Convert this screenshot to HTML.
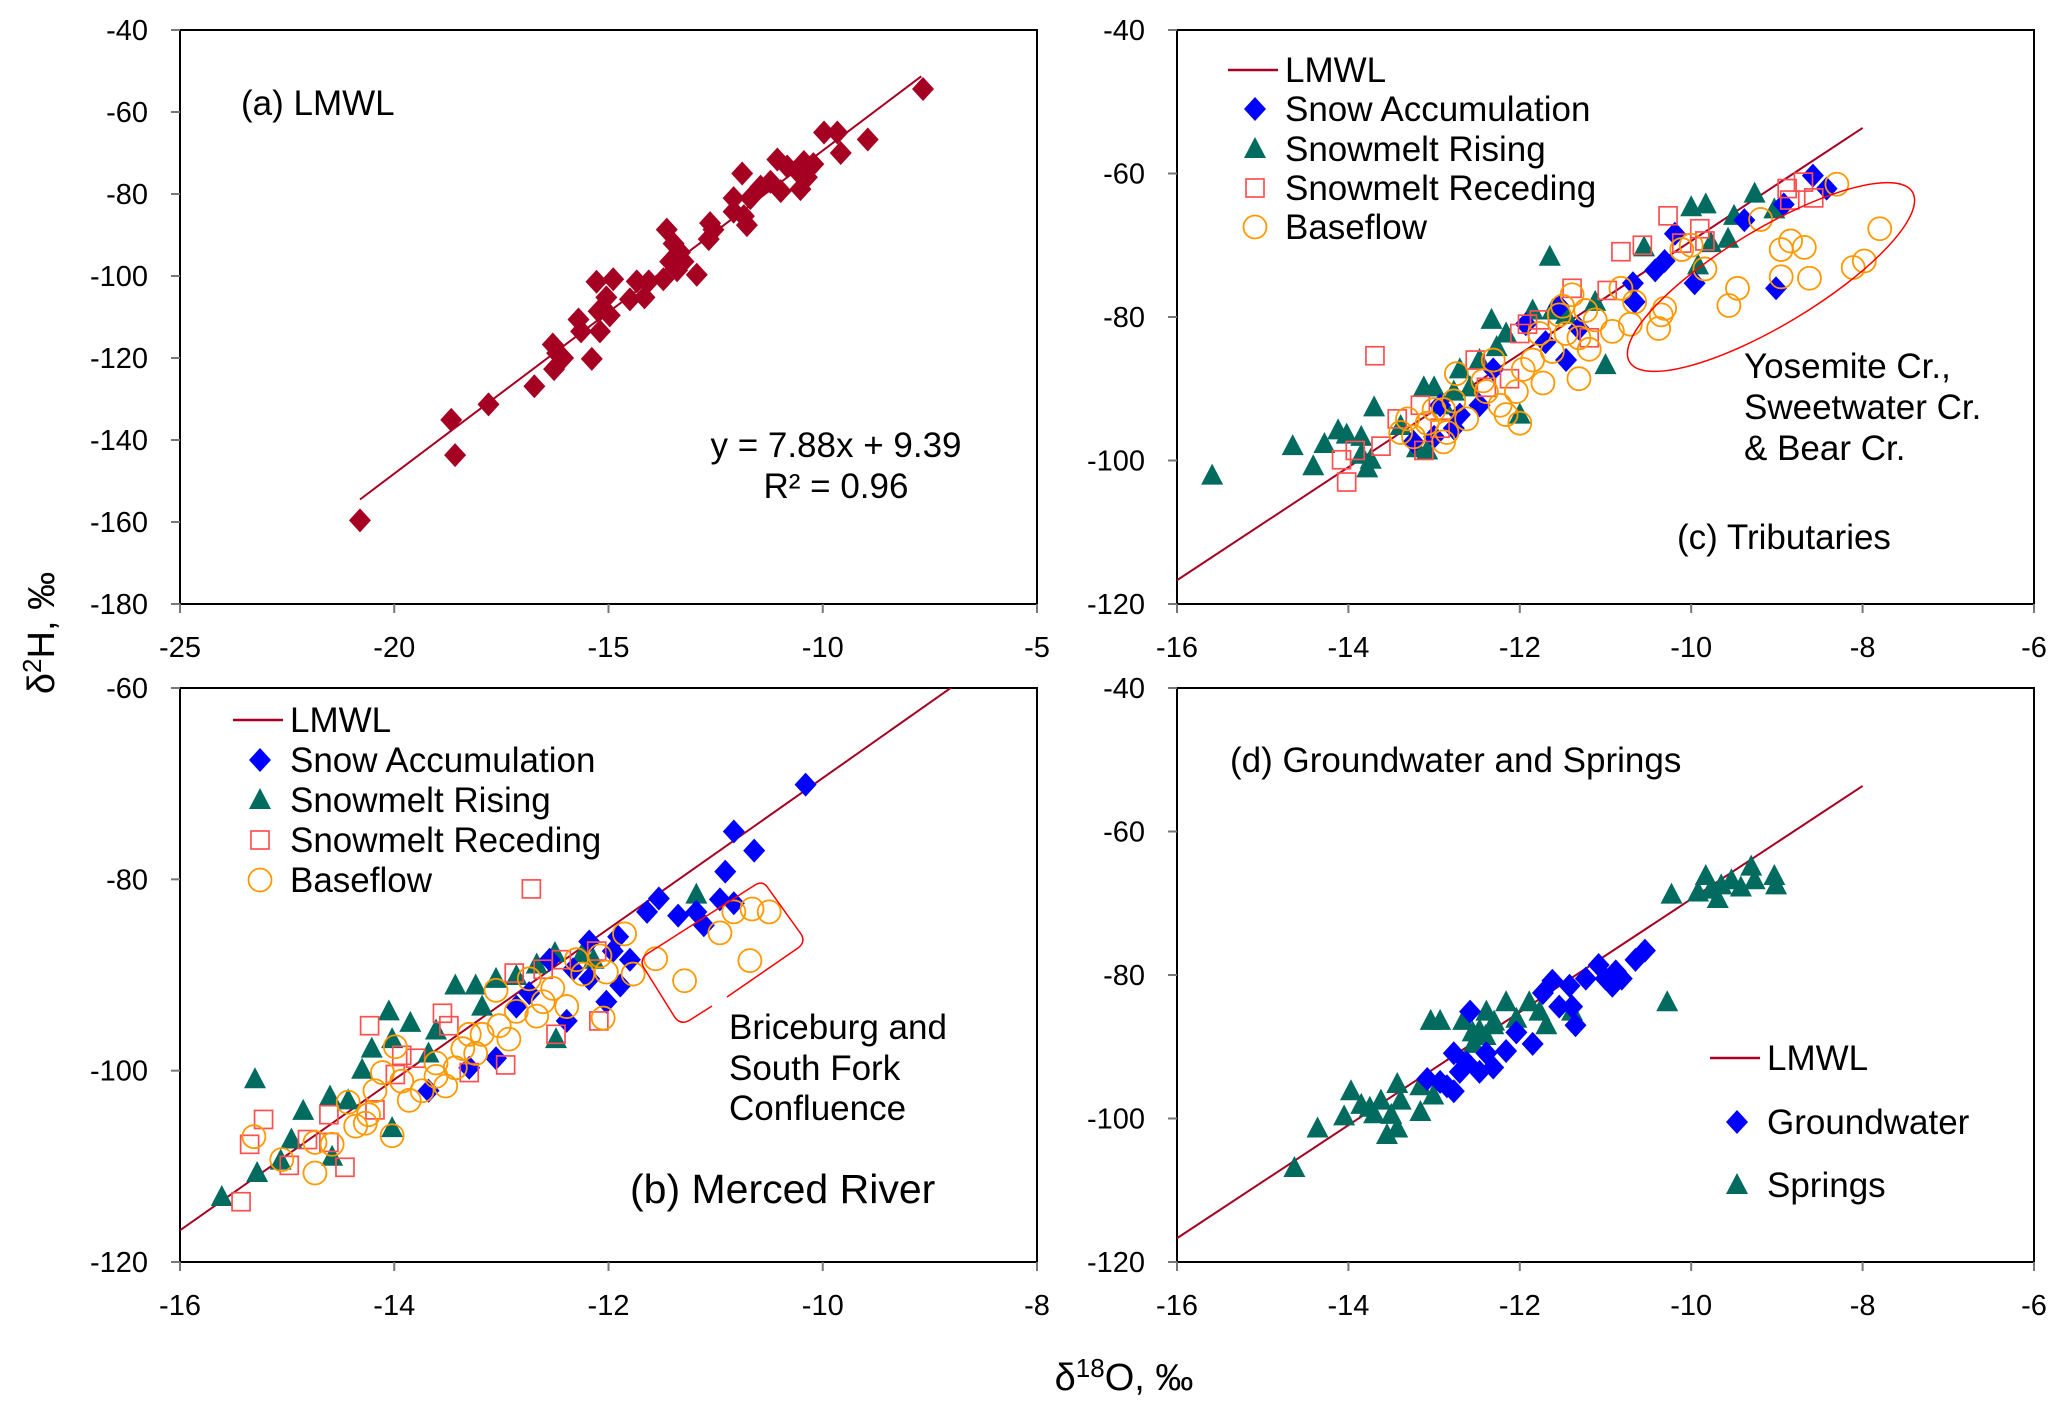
<!DOCTYPE html>
<html><head><meta charset="utf-8">
<style>
html,body{margin:0;padding:0;background:#fff;}
svg{display:block;font-family:"Liberation Sans",Arial,sans-serif;}
</style></head>
<body>
<svg id="chart" width="2067" height="1412" viewBox="0 0 2067 1412" xmlns="http://www.w3.org/2000/svg">
<text transform="translate(54,633) rotate(-90)" text-anchor="middle" font-size="38" fill="#000">δ<tspan dy="-13" font-size="26">2</tspan><tspan dy="13">H, ‰</tspan></text>
<text x="1124" y="1390" text-anchor="middle" font-size="38" fill="#000">δ<tspan dy="-13" font-size="26">18</tspan><tspan dy="13">O, ‰</tspan></text>
</svg>
<script>
// ---- Panel (a) data ----
const aX = [-20.8,-18.67,-18.58,-17.8,-16.73,-16.3,-16.27,-16.06,-16.2,-15.7,-15.64,-15.39,-15.28,-15.23,-15.2,-15.05,-14.89,-14.97,-14.5,-14.34,-14.16,-14.06,-13.72,-13.64,-13.56,-13.48,-13.4,-13.33,-13.25,-12.94,-12.66,-12.63,-12.55,-12.08,-12.08,-11.88,-11.84,-11.77,-11.69,-11.45,-11.22,-11.06,-10.98,-10.83,-10.6,-10.52,-10.44,-10.37,-10.22,-9.97,-9.66,-9.58,-8.95,-7.66];
const aY = [-159.6,-135.1,-143.7,-131.3,-126.9,-116.7,-122.7,-120,-118.8,-110.6,-113.5,-120.2,-101.4,-108.6,-113.5,-105.2,-100.8,-109.6,-105.7,-101.3,-105.2,-101.3,-100.8,-88.7,-96.5,-92.1,-98.6,-94.2,-96.5,-99.7,-91,-87.1,-88.7,-84.3,-81,-75,-85.4,-87.6,-81,-78.2,-77,-71.6,-79.3,-73.3,-74.4,-78.8,-72.2,-75.9,-72.7,-65,-65,-70,-66.7,-54.4];
const lmwlSlope = 7.88, lmwlIntercept = 9.39;

// ---- Panel (c) tributaries ----
const cRiseX = [-15.59,-14.65,-14.41,-14.28,-14.12,-14.02,-13.85,-13.78,-13.7,-13.74,-13.39,-13.2,-13.12,-13,-12.89,-12.7,-12.58,-12.47,-12.33,-12.27,-12.16,-12,-11.85,-11.65,-11.62,-11.46,-11.12,-11,-10.55,-10,-9.83,-9.77,-9.57,-9.5,-9.26,-9.03,-9.92,-12.77,-13.08,-13.85];
const cRiseY = [-102.1,-98,-100.8,-97.7,-95.8,-96.4,-96.7,-101.1,-92.6,-99.9,-95.2,-98.3,-89.8,-89.8,-92.3,-87.3,-89.8,-86,-80.4,-84.2,-82.3,-93.6,-79.1,-71.6,-79.1,-79.7,-77.9,-86.7,-70.3,-64.7,-64.3,-69.7,-69.1,-65.9,-62.8,-65,-72.8,-90.4,-98.6,-99.2];
const cSnowX = [-8.58,-8.42,-8.92,-9.38,-9.96,-9.01,-10.19,-10.42,-10.31,-10.68,-10.66,-11.54,-11.31,-11.46,-11.7,-12.31,-12.47,-12.77,-13,-13.24,-12.7,-12.93,-11.93];
const cSnowY = [-60.3,-62.1,-64.3,-66.5,-75.3,-76,-68.4,-73.5,-72.2,-75.3,-77.9,-78.5,-81.6,-86,-83.5,-87.3,-92.3,-95.5,-96.7,-97.4,-93.6,-92.3,-81];
const cRecX = [-14.02,-14.08,-13.92,-13.69,-13.62,-13.43,-13.16,-13.12,-12.93,-12.52,-12.39,-12.12,-12,-11.91,-11.77,-11.39,-11.19,-10.98,-10.82,-10.57,-10.27,-10.11,-9.9,-9.84,-8.88,-8.69,-8.57,-8.85];
const cRecY = [-103,-99.9,-98.6,-85.4,-98,-94.2,-92.3,-98.6,-95.5,-86,-89.8,-88.6,-82.3,-81,-80.4,-76,-82.9,-76.3,-70.9,-70,-65.9,-69.7,-67.7,-69.4,-62.1,-61.2,-63.4,-63.7];
const cBaseX = [-8.3,-7.8,-9.19,-8.84,-8.95,-8.68,-8.95,-8.62,-8.11,-7.98,-9.46,-9.56,-9.84,-10,-10.11,-10.31,-10.38,-10.35,-10.66,-10.71,-10.82,-10.92,-11.12,-11.23,-11.31,-11.31,-11.19,-11.39,-11.54,-11.46,-11.62,-11.73,-11.85,-11.96,-12.04,-12,-12.23,-12.16,-12.31,-12.43,-12.39,-12.62,-12.74,-12.77,-12.89,-12.85,-13,-13.08,-13.31,-13.24,-13.39,-12.89,-11.77,-11.5];
const cBaseY = [-61.5,-67.7,-66.4,-69.4,-70.6,-70.3,-74.4,-74.6,-73.1,-72.2,-76,-78.4,-73.3,-70,-70.6,-78.8,-81.6,-79.7,-77.9,-81,-76,-82,-80.4,-79.1,-82.9,-88.6,-84.5,-76.9,-79.7,-82.3,-84.8,-89.2,-86,-87.3,-90.4,-94.8,-92.3,-93.6,-86,-88.9,-90.4,-94.2,-87.9,-91.7,-92.9,-96.1,-92.9,-94.8,-94.2,-96.7,-96.1,-97.4,-82.3,-78.5];

// ---- Panel (b) Merced River ----
const bSnowX = [-10.16,-10.83,-10.64,-10.91,-10.96,-10.83,-11.53,-11.64,-11.35,-11.11,-11.18,-12.18,-11.91,-11.96,-11.8,-11.89,-12.02,-12.39,-12.33,-12.74,-12.86,-13.05,-13.3,-13.68,-12.55,-12.18];
const bSnowY = [-70.1,-75,-77,-79.2,-82.1,-82.5,-82,-83.4,-83.8,-84.8,-83.4,-86.5,-86,-87.5,-88.4,-91.1,-92.8,-94.8,-89.4,-91.9,-93.3,-98.7,-99.7,-102.1,-88.4,-90.4];
const bRiseX = [-15.61,-15.28,-15.3,-15.06,-14.96,-14.85,-14.6,-14.58,-14.3,-14.21,-14.05,-14.02,-13.85,-14.02,-13.61,-13.43,-13.24,-13.18,-13.05,-12.86,-12.67,-12.5,-12.49,-12.24,-12.14,-11.18,-13.68,-14.43];
const bRiseY = [-113.2,-110.7,-100.9,-109.4,-107.2,-104.2,-102.7,-109,-99.9,-97.7,-93.8,-96.7,-95,-106,-95.8,-91.1,-91.1,-93.3,-90.4,-90.1,-88.9,-87.7,-96.7,-87.7,-88.4,-81.6,-98.2,-103.1];
const bRecX = [-15.43,-15.35,-15.22,-14.98,-14.81,-14.61,-14.46,-14.61,-14.23,-13.93,-13.8,-13.99,-13.55,-13.49,-12.96,-12.88,-12.72,-12.61,-12.44,-12.11,-12.09,-12.49,-13.3,-14.18];
const bRecY = [-113.7,-107.7,-105.1,-109.9,-107.2,-107.5,-110.1,-104.6,-95.3,-98.4,-98.7,-100.4,-94,-95.3,-99.4,-89.8,-81,-89.4,-88.4,-87.5,-94.8,-96.2,-100.2,-104.1];
const bBaseX = [-10.5,-10.66,-10.83,-10.96,-10.68,-11.29,-11.56,-11.85,-11.77,-12.02,-12.08,-12.05,-12.3,-12.24,-12.39,-12.52,-12.61,-12.67,-12.74,-12.86,-12.93,-13.05,-13.02,-13.18,-13.24,-13.36,-13.43,-13.52,-13.61,-13.74,-13.86,-13.93,-13.99,-14.02,-14.11,-14.18,-14.27,-14.24,-14.36,-14.43,-14.58,-14.74,-14.74,-15.05,-15.31,-13.61,-13.3];
const bBaseY = [-83.4,-83.1,-83.4,-85.6,-88.5,-90.6,-88.3,-85.7,-89.9,-89.7,-88,-94.5,-88.4,-89.9,-93.3,-91.4,-92.8,-94.3,-90.4,-93.8,-96.7,-91.6,-95.3,-96.2,-98.2,-97.7,-99.7,-101.6,-100.6,-102.1,-103.1,-101.1,-97.5,-106.8,-100.2,-102.1,-105.5,-104.6,-105.8,-103.3,-107.7,-107.5,-110.7,-109.3,-106.9,-99.2,-96.2];

// ---- Panel (d) Groundwater & springs ----
const dSpringX = [-14.63,-14.36,-13.97,-14.05,-13.85,-13.7,-13.55,-13.43,-13.43,-13.39,-13.62,-13.16,-13.16,-13.01,-13.04,-12.93,-12.66,-12.54,-12.47,-12.39,-12.31,-12.16,-12.04,-11.89,-11.69,-11.77,-11.39,-10.28,-10.23,-9.83,-9.77,-9.65,-9.53,-9.42,-9.3,-9.26,-9.03,-9.01,-9.69,-9.92,-13.5,-13.75,-12.4,-12.3,-12.55];
const dSpringY = [-106.9,-101.4,-96.2,-99.7,-98.1,-99.4,-102.3,-101.4,-95.2,-97.5,-97.5,-95.5,-99.1,-96.8,-86.4,-86.4,-86.4,-89.6,-87.7,-85.1,-87,-83.8,-86.1,-83.8,-87,-85.1,-85.1,-83.8,-68.8,-66.2,-68.1,-67.5,-66.8,-67.8,-64.9,-66.8,-66.2,-67.5,-69.4,-68.5,-99.5,-98.5,-88.5,-86.5,-88];
const dGwX = [-10.54,-10.65,-10.88,-10.92,-10.81,-11.08,-11,-11.23,-11.42,-11.35,-11.39,-11.62,-11.73,-11.54,-11.85,-12.16,-12.04,-12.31,-12.39,-12.47,-12.62,-12.77,-12.7,-12.85,-12.77,-12.93,-13.08,-12.58];
const dGwY = [-76.6,-77.9,-79.5,-81.5,-80.5,-78.6,-80.5,-80.5,-81.5,-87,-84.4,-80.8,-82.5,-84.4,-89.6,-90.6,-88,-92.9,-90.9,-93.5,-92.2,-90.9,-93.5,-95.5,-96.2,-94.9,-94.5,-85.1];

// ---- Tick labels ----
const aXTicks = [-25,-20,-15,-10,-5];
const aYTicks = [-180,-160,-140,-120,-100,-80,-60,-40];
const cXTicks = [-16,-14,-12,-10,-8,-6];
const cYTicks = [-120,-100,-80,-60,-40];
const bXTicks = [-16,-14,-12,-10,-8];
const bYTicks = [-120,-100,-80,-60];

const NS = "http://www.w3.org/2000/svg";
const svg = document.getElementById('chart');
function mk(tag, attrs, parent){
  const e = document.createElementNS(NS, tag);
  for (const k in attrs) e.setAttribute(k, attrs[k]);
  (parent||svg).appendChild(e);
  return e;
}
function panel(name, box, xd, yd, xt, yt){
  const g = mk('g', {});
  
  
  const sx = v => box.x + (v - xd[0]) / (xd[1] - xd[0]) * box.w;
  const sy = v => box.y + box.h - (v - yd[0]) / (yd[1] - yd[0]) * box.h;
  const cid = name + '-clip';
  const cp = mk('clipPath', {id: cid}, g);
  mk('rect', {x: box.x, y: box.y, width: box.w, height: box.h}, cp);
  const fr = mk('rect', {x: box.x, y: box.y, width: box.w, height: box.h, fill: 'none', stroke: '#000', 'stroke-width': 2}, g);
  
  
  xt.forEach(v => {
    mk('line', {x1: sx(v), x2: sx(v), y1: box.y + box.h, y2: box.y + box.h + 9, stroke: '#777', 'stroke-width': 2}, g);
    const t = mk('text', {x: sx(v), y: box.y + box.h + 53, 'text-anchor': 'middle', 'font-size': 29, fill: '#000'}, g);
    
    
    t.textContent = v;
  });
  yt.forEach(v => {
    mk('line', {x1: box.x - 9, x2: box.x, y1: sy(v), y2: sy(v), stroke: '#777', 'stroke-width': 2}, g);
    const t = mk('text', {x: box.x - 32, y: sy(v) + 10, 'text-anchor': 'end', 'font-size': 29, fill: '#000'}, g);
    
    
    t.textContent = v;
  });
  const plot = mk('g', {'clip-path': 'url(#' + cid + ')'}, g);
  return {g, plot, sx, sy, box};
}
function lmwl(P, x0, x1){
  const l = mk('line', {x1: P.sx(x0), y1: P.sy(lmwlSlope * x0 + lmwlIntercept), x2: P.sx(x1), y2: P.sy(lmwlSlope * x1 + lmwlIntercept), stroke: '#A50021', 'stroke-width': 2}, P.plot);
  
  
}
function marker(parent, type, x, y, color){
  let e;
  if (type === 'diamond') e = mk('polygon', {points: `${x},${y-12} ${x+11},${y} ${x},${y+12} ${x-11},${y}`, fill: color}, parent);
  else if (type === 'triangle') e = mk('polygon', {points: `${x},${y-12} ${x+11},${y+9} ${x-11},${y+9}`, fill: color}, parent);
  else if (type === 'square') e = mk('rect', {x: x-9, y: y-9, width: 18, height: 18, fill: 'none', stroke: color, 'stroke-width': 1.7}, parent);
  else e = mk('circle', {cx: x, cy: y, r: 11.5, fill: 'none', stroke: color, 'stroke-width': 1.8}, parent);
  return e;
}
function series(P, name, type, color, xs, ys){
  const g = mk('g', {}, P.plot);
  
  
  xs.forEach((v, i) => {
    const m = marker(g, type, P.sx(v), P.sy(ys[i]), color);
    
    
  });
}
function text(parent, name, x, y, s, size, anchor){
  const t = mk('text', {x, y, 'font-size': size, fill: '#000', 'text-anchor': anchor || 'start'}, parent);
  
  
  t.textContent = s;
  return t;
}
function legendItem(parent, name, type, color, x, y, label){
  const g = mk('g', {}, parent);
  
  
  if (type === 'line') mk('line', {x1: x - 27, x2: x + 23, y1: y, y2: y, stroke: '#A50021', 'stroke-width': 2.5}, g);
  else marker(g, type, x, y, color);
  text(g, name + '-label', x + 30, y + 12, label, 35);
}
const BLUE = '#0000FF', TEAL = '#006B5E', SQR = '#FF5050', ORG = '#FF9900', DRED = '#A50021';

// Panel a
const A = panel('panel-a', {x: 180, y: 30, w: 857, h: 574}, [-25, -5], [-180, -40], aXTicks, aYTicks);
lmwl(A, -20.8, -7.7);
series(A, 'lmwl-samples', 'diamond', DRED, aX, aY);
text(A.g, 'panel-a-title', 241, 115, '(a) LMWL', 35);
text(A.g, 'regression-equation', 836, 457, 'y = 7.88x + 9.39', 35, 'middle');
text(A.g, 'r-squared', 836, 498, 'R² = 0.96', 35, 'middle');

// Panel c
const C = panel('panel-c', {x: 1177, y: 30, w: 857, h: 574}, [-16, -6], [-120, -40], cXTicks, cYTicks);
lmwl(C, -16, -8);
series(C, 'snowmelt-rising', 'triangle', TEAL, cRiseX, cRiseY);
series(C, 'snow-accumulation', 'diamond', BLUE, cSnowX, cSnowY);
series(C, 'snowmelt-receding', 'square', SQR, cRecX, cRecY);
series(C, 'baseflow', 'circle', ORG, cBaseX, cBaseY);
const el = mk('ellipse', {cx: 1771, cy: 277, rx: 165, ry: 48, transform: 'rotate(-31 1771 277)', fill: 'none', stroke: '#FF0000', 'stroke-width': 1.5}, C.g);


legendItem(C.g, 'legend-lmwl', 'line', DRED, 1255, 70, 'LMWL');
legendItem(C.g, 'legend-snow-accumulation', 'diamond', BLUE, 1255, 109, 'Snow Accumulation');
legendItem(C.g, 'legend-snowmelt-rising', 'triangle', TEAL, 1255, 149, 'Snowmelt Rising');
legendItem(C.g, 'legend-snowmelt-receding', 'square', SQR, 1255, 188, 'Snowmelt Receding');
legendItem(C.g, 'legend-baseflow', 'circle', ORG, 1255, 227, 'Baseflow');
text(C.g, 'annotation-yosemite', 1744, 378, 'Yosemite Cr.,', 35);
text(C.g, 'annotation-sweetwater', 1744, 419, 'Sweetwater Cr.', 35);
text(C.g, 'annotation-bear', 1744, 460, '& Bear Cr.', 35);
text(C.g, 'panel-c-title', 1677, 549, '(c) Tributaries', 35);

// Panel b
const B = panel('panel-b', {x: 180, y: 688, w: 857, h: 574}, [-16, -8], [-120, -60], bXTicks, bYTicks);
lmwl(B, -16, -8);
series(B, 'snowmelt-rising', 'triangle', TEAL, bRiseX, bRiseY);
series(B, 'snow-accumulation', 'diamond', BLUE, bSnowX, bSnowY);
series(B, 'snowmelt-receding', 'square', SQR, bRecX, bRecY);
series(B, 'baseflow', 'circle', ORG, bBaseX, bBaseY);
const rr = mk('path', {d: 'M712,1006 L690,1020 Q680,1026 674,1016 L644,968 Q639,960 647,954 L755,885 Q763,880 768,888 L801,934 Q806,942 798,948 L727,997', fill: 'none', stroke: '#FF0000', 'stroke-width': 1.5}, B.g);


legendItem(B.g, 'legend-lmwl', 'line', DRED, 260, 720, 'LMWL');
legendItem(B.g, 'legend-snow-accumulation', 'diamond', BLUE, 260, 760, 'Snow Accumulation');
legendItem(B.g, 'legend-snowmelt-rising', 'triangle', TEAL, 260, 800, 'Snowmelt Rising');
legendItem(B.g, 'legend-snowmelt-receding', 'square', SQR, 260, 840, 'Snowmelt Receding');
legendItem(B.g, 'legend-baseflow', 'circle', ORG, 260, 880, 'Baseflow');
text(B.g, 'annotation-briceburg', 729, 1039, 'Briceburg and', 35);
text(B.g, 'annotation-south-fork', 729, 1080, 'South Fork', 35);
text(B.g, 'annotation-confluence', 729, 1120, 'Confluence', 35);
text(B.g, 'panel-b-title', 630, 1203, '(b) Merced River', 41);

// Panel d
const D = panel('panel-d', {x: 1177, y: 688, w: 857, h: 574}, [-16, -6], [-120, -40], cXTicks, cYTicks);
lmwl(D, -16, -8);
series(D, 'springs', 'triangle', TEAL, dSpringX, dSpringY);
series(D, 'groundwater', 'diamond', BLUE, dGwX, dGwY);
text(D.g, 'panel-d-title', 1230, 772, '(d) Groundwater and Springs', 35);
legendItem(D.g, 'legend-lmwl', 'line', DRED, 1737, 1058, 'LMWL');
legendItem(D.g, 'legend-groundwater', 'diamond', BLUE, 1737, 1122, 'Groundwater');
legendItem(D.g, 'legend-springs', 'triangle', TEAL, 1737, 1185, 'Springs');
</script>
</body></html>
